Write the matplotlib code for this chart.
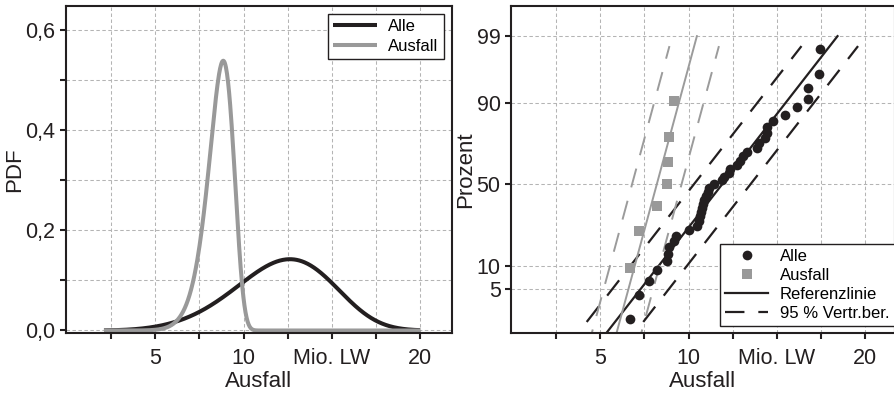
import numpy as np
import matplotlib
matplotlib.use("Agg")
import matplotlib.pyplot as plt
from matplotlib.lines import Line2D
from statistics import NormalDist

# ---------------------------------------------------------------- data
series_labels = ["Alle", "Ausfall"]

# Weibull densities drawn in the left panel (shape k, scale lambda)
weibull_shape = [5.0, 13.0]
weibull_scale = [13.2, 8.905]
pdf_x_range = [2.1, 20.0]

# Observed failure values in Mio. LW (sorted)
alle_values = [6.71, 7.17, 7.77, 8.21, 8.80, 8.82, 8.90, 9.15, 9.26, 10.00,
               10.47, 10.56, 10.66, 10.69, 10.75, 10.79, 10.88, 11.00, 11.07,
               11.18, 11.41, 11.88, 12.01, 12.26, 12.32, 12.73, 12.88, 13.05,
               13.30, 13.86, 13.96, 14.33, 14.43, 14.46, 14.77, 15.46, 16.12,
               16.75, 16.78, 17.39, 17.44]
ausfall_values = [6.71, 7.17, 8.21, 8.80, 8.82, 8.90, 9.15]

# Normal reference lines (mean, standard deviation) and 95 % band half-width
ref_mean = [11.9, 8.2]
ref_std = [2.805, 0.975]
band_halfwidth = [1.6, 1.4]

x_ticks = [2.5, 5, 7.5, 10, 12.5, 15, 17.5, 20]
x_ticklabels = ["", "5", "", "10", "", "Mio. LW", "", "20"]
pdf_ticks = [0.0, 0.1, 0.2, 0.3, 0.4, 0.5, 0.6]
pdf_ticklabels = ["0,0", "", "0,2", "", "0,4", "", "0,6"]
prob_ticks = [5, 10, 50, 90, 99]

# ---------------------------------------------------------------- style
plt.rcParams["font.family"] = ["Liberation Sans", "DejaVu Sans"]
plt.rcParams["lines.scale_dashes"] = False

BLACK = "#231f20"
GRAY = "#999999"
GRAY_LINE = "#9b9b9b"
GRID = "#b4b4b4"
TICK_FS = 15.5
LABEL_FS = 16
LEGEND_FS = 12
DASH = (0, (14.0, 10.0))

nd = NormalDist()


def weibull_pdf(x, k, lam):
    t = x / lam
    return (k / lam) * t ** (k - 1) * np.exp(-t ** k)


def style_axes(ax):
    for sp in ax.spines.values():
        sp.set_linewidth(1.5)
        sp.set_color(BLACK)
    ax.tick_params(direction="out", length=4.5, width=1.5, color=BLACK,
                   labelsize=TICK_FS, labelcolor=BLACK)
    ax.tick_params(axis="x", pad=6.5)
    ax.tick_params(axis="y", pad=3)
    ax.grid(True, color=GRID, linewidth=0.75, linestyle=(0, (2.5, 1.8)))
    ax.set_axisbelow(True)
    ax.set_xticks(x_ticks)
    ax.set_xticklabels(x_ticklabels)
    ax.set_xlabel("Ausfall", fontsize=LABEL_FS, labelpad=1.5, color=BLACK)


fig = plt.figure(figsize=(8.95, 3.97), dpi=100)
W, H = 895.0, 397.0
ax1 = fig.add_axes([66 / W, 64 / H, 386 / W, 327 / H])
ax2 = fig.add_axes([511 / W, 64 / H, 383.5 / W, 327 / H])

# ---------------------------------------------------------------- left: PDFs
xs = np.linspace(pdf_x_range[0], pdf_x_range[1], 600)
for lab, k, lam, col in zip(series_labels, weibull_shape, weibull_scale,
                            [BLACK, GRAY]):
    ax1.plot(xs, weibull_pdf(xs, k, lam), color=col, linewidth=2.9,
             label=lab, solid_capstyle="butt")

style_axes(ax1)
ax1.set_xlim(-0.05, 21.8)
ax1.set_ylim(-0.005, 0.648)
ax1.set_yticks(pdf_ticks)
ax1.set_yticklabels(pdf_ticklabels)
ax1.set_ylabel("PDF", fontsize=LABEL_FS, labelpad=0, color=BLACK)
leg1 = ax1.legend(loc="upper right", fontsize=LEGEND_FS, frameon=True,
                  fancybox=False, framealpha=1, edgecolor=BLACK,
                  handlelength=2.6, handletextpad=0.7, borderpad=0.3,
                  labelspacing=0.3, borderaxespad=0.5)
leg1.get_frame().set_linewidth(1.0)

# ---------------------------------------------------------------- right: probability plot
def plotting_positions(n):
    i = np.arange(1, n + 1)
    return (i - 0.3) / (n + 0.4)


z_line = np.array([nd.inv_cdf(0.01), nd.inv_cdf(0.99)])
z_band = np.array([nd.inv_cdf(0.005), nd.inv_cdf(0.985)])

for mu, sd, hw, col, lw in [(ref_mean[0], ref_std[0], band_halfwidth[0], BLACK, 1.6),
                            (ref_mean[1], ref_std[1], band_halfwidth[1], GRAY_LINE, 1.4)]:
    ax2.plot(mu + sd * z_line, z_line, color=col, linewidth=lw)
    for s in (-1, 1):
        ax2.plot(mu + s * hw + sd * z_band, z_band, color=col, linewidth=lw,
                 linestyle=DASH)

for vals, marker, col, ms in [(alle_values, "o", BLACK, 7.0),
                              (ausfall_values, "s", GRAY, 6.5)]:
    v = np.sort(np.asarray(vals, dtype=float))
    z = np.array([nd.inv_cdf(p) for p in plotting_positions(len(v))])
    ax2.plot(v, z, linestyle="none", marker=marker, color=col,
             markersize=ms, markeredgewidth=0, zorder=4)

style_axes(ax2)
ax2.set_xlim(-0.05, 21.65)
ax2.set_ylim(nd.inv_cdf(0.01) - 0.01, 2.80)
ax2.set_yticks([nd.inv_cdf(p / 100) for p in prob_ticks])
ax2.set_yticklabels([str(p) for p in prob_ticks])
ax2.set_ylabel("Prozent", fontsize=LABEL_FS, labelpad=0, color=BLACK)

handles = [
    Line2D([], [], linestyle="none", marker="o", color=BLACK, markersize=7.0,
           markeredgewidth=0),
    Line2D([], [], linestyle="none", marker="s", color=GRAY, markersize=6.5,
           markeredgewidth=0),
    Line2D([], [], color=BLACK, linewidth=1.6),
    Line2D([], [], color=BLACK, linewidth=1.6, linestyle=DASH),
]
leg2 = ax2.legend(handles, ["Alle", "Ausfall", "Referenzlinie", "95 % Vertr.ber."],
                  loc="lower right", bbox_to_anchor=(1.0, 0.021),
                  fontsize=LEGEND_FS, frameon=True, fancybox=False,
                  framealpha=1, edgecolor=BLACK, handlelength=2.6,
                  handletextpad=0.7, borderpad=0.3, labelspacing=0.25,
                  borderaxespad=0.0)
leg2.get_frame().set_linewidth(1.0)

fig.savefig("out.png", dpi=100)
